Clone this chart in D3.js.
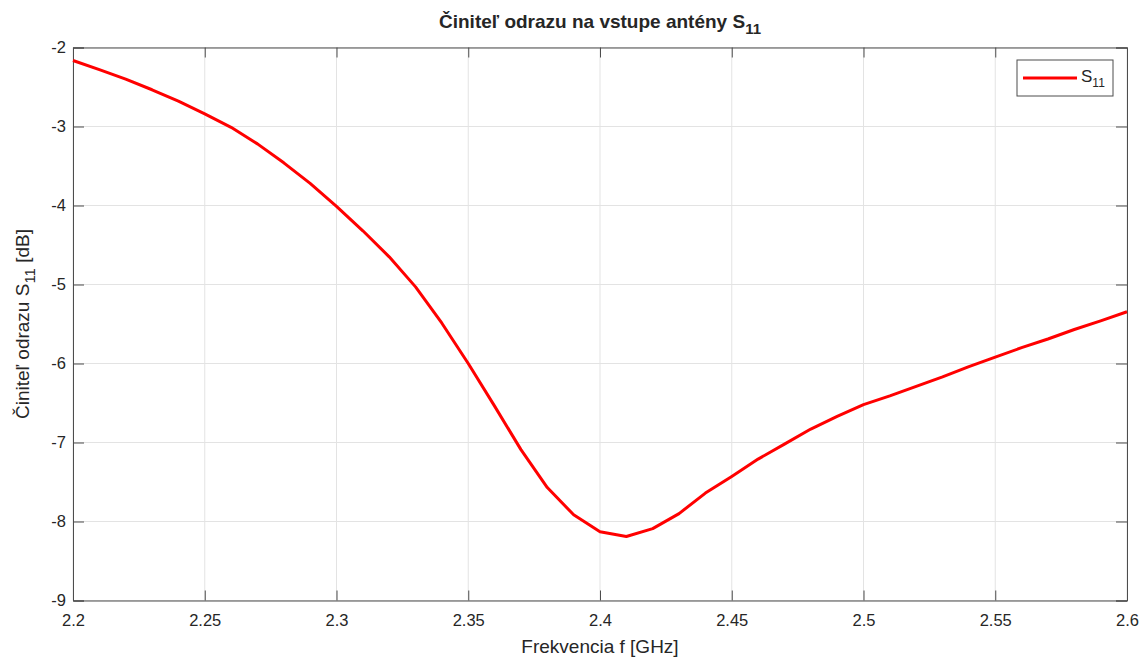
<!DOCTYPE html>
<html>
<head>
<meta charset="utf-8">
<script src="https://cdn.jsdelivr.net/npm/d3@7"></script>
<style>
  body { margin: 0; background: #fff; }
  text { font-family: "Liberation Sans", Arial, sans-serif; fill: #262626; }
</style>
</head>
<body>
<script>
// frequency [GHz] and S11 [dB]
const freq = [2.20, 2.21, 2.22, 2.23, 2.24, 2.25, 2.26, 2.27, 2.28, 2.29,
              2.30, 2.31, 2.32, 2.33, 2.34, 2.35, 2.36, 2.37, 2.38, 2.39,
              2.40, 2.41, 2.42, 2.43, 2.44, 2.45, 2.46, 2.47, 2.48, 2.49,
              2.50, 2.51, 2.52, 2.53, 2.54, 2.55, 2.56, 2.57, 2.58, 2.59, 2.60];
const s11 = [-2.165, -2.28, -2.40, -2.535, -2.68, -2.84, -3.01, -3.22, -3.46, -3.72,
             -4.01, -4.32, -4.65, -5.03, -5.49, -6.00, -6.54, -7.09, -7.57, -7.915,
             -8.13, -8.19, -8.09, -7.90, -7.64, -7.43, -7.21, -7.02, -6.83, -6.67,
             -6.52, -6.41, -6.29, -6.17, -6.04, -5.92, -5.80, -5.69, -5.57, -5.46, -5.345];
const xTicks = [2.2, 2.25, 2.3, 2.35, 2.4, 2.45, 2.5, 2.55, 2.6];
const yTicks = [-9, -8, -7, -6, -5, -4, -3, -2];

const width = 1144, height = 657;
const margin = {top: 47.5, right: 17, bottom: 56.5, left: 73};
const iw = width - margin.left - margin.right;
const ih = height - margin.top - margin.bottom;

const svg = d3.select("body").append("svg")
    .attr("width", width)
    .attr("height", height);

const x = d3.scaleLinear().domain([2.2, 2.6]).range([0, iw]);
const y = d3.scaleLinear().domain([-9, -2]).range([ih, 0]);

const g = svg.append("g").attr("transform", "translate(" + margin.left + "," + margin.top + ")");

// grid
g.selectAll(".gx").data(xTicks).enter().append("line")
    .attr("x1", d => x(d)).attr("x2", d => x(d))
    .attr("y1", 0).attr("y2", ih)
    .attr("stroke", "#e3e3e3").attr("stroke-width", 1);
g.selectAll(".gy").data(yTicks).enter().append("line")
    .attr("y1", d => y(d)).attr("y2", d => y(d))
    .attr("x1", 0).attr("x2", iw)
    .attr("stroke", "#e3e3e3").attr("stroke-width", 1);

// axes (ticks point inward, like matlab)
const axisColor = "#4d4d4d";
const xAxis = g.append("g").attr("transform", "translate(0," + ih + ")")
    .call(d3.axisBottom(x).tickValues(xTicks).tickSize(-10)
        .tickFormat(d => String(+d.toFixed(2))));
const xTop = g.append("g")
    .call(d3.axisTop(x).tickValues(xTicks).tickSize(-10).tickFormat(""));
const yAxis = g.append("g")
    .call(d3.axisLeft(y).tickValues(yTicks).tickSize(-11)
        .tickFormat(d => String(d)));
const yRight = g.append("g").attr("transform", "translate(" + iw + ",0)")
    .call(d3.axisRight(y).tickValues(yTicks).tickSize(-11).tickFormat(""));

[xAxis, xTop, yAxis, yRight].forEach(a => {
    a.selectAll("path, line").attr("stroke", axisColor);
    a.selectAll("text").attr("font-size", 16.5).style("font-family", "'Liberation Sans', Arial, sans-serif").attr("fill", "#262626");
});
xAxis.selectAll("text").attr("dy", "0.71em").attr("y", 14);
yAxis.selectAll("text").attr("x", -7);

// curve
const line = d3.line()
    .x((d, i) => x(freq[i]))
    .y(d => y(d));
g.append("path")
    .datum(s11)
    .attr("d", line)
    .attr("fill", "none")
    .attr("stroke", "#ff0000")
    .attr("stroke-width", 3)
    .attr("stroke-linejoin", "round");

// title
const title = svg.append("text")
    .attr("x", margin.left + iw / 2)
    .attr("y", 28)
    .attr("text-anchor", "middle")
    .attr("font-size", 19)
    .attr("font-weight", "bold")
    .attr("fill", "#000");
title.append("tspan").text("Činiteľ odrazu na vstupe antény S");
title.append("tspan").attr("font-size", 15).attr("dy", 6).text("11");

// axis labels
svg.append("text")
    .attr("x", margin.left + iw / 2)
    .attr("y", 653)
    .attr("text-anchor", "middle")
    .attr("font-size", 19)
    .text("Frekvencia f [GHz]");

const yl = svg.append("text")
    .attr("transform", "translate(29," + (margin.top + ih / 2) + ") rotate(-90)")
    .attr("text-anchor", "middle")
    .attr("font-size", 19);
yl.append("tspan").text("Činiteľ odrazu S");
yl.append("tspan").attr("font-size", 15).attr("dy", 6).text("11");
yl.append("tspan").attr("dy", -6).text("  [dB]");

// legend
const lg = svg.append("g").attr("transform", "translate(1017,60)");
lg.append("rect").attr("width", 96).attr("height", 36)
    .attr("fill", "#fff").attr("stroke", "#4d4d4d").attr("stroke-width", 1);
lg.append("line").attr("x1", 6).attr("x2", 60).attr("y1", 18).attr("y2", 18)
    .attr("stroke", "#ff0000").attr("stroke-width", 3);
const lt = lg.append("text").attr("x", 64).attr("y", 22).attr("font-size", 17);
lt.append("tspan").text("S");
lt.append("tspan").attr("font-size", 12).attr("dy", 5).text("11");
</script>
</body>
</html>
